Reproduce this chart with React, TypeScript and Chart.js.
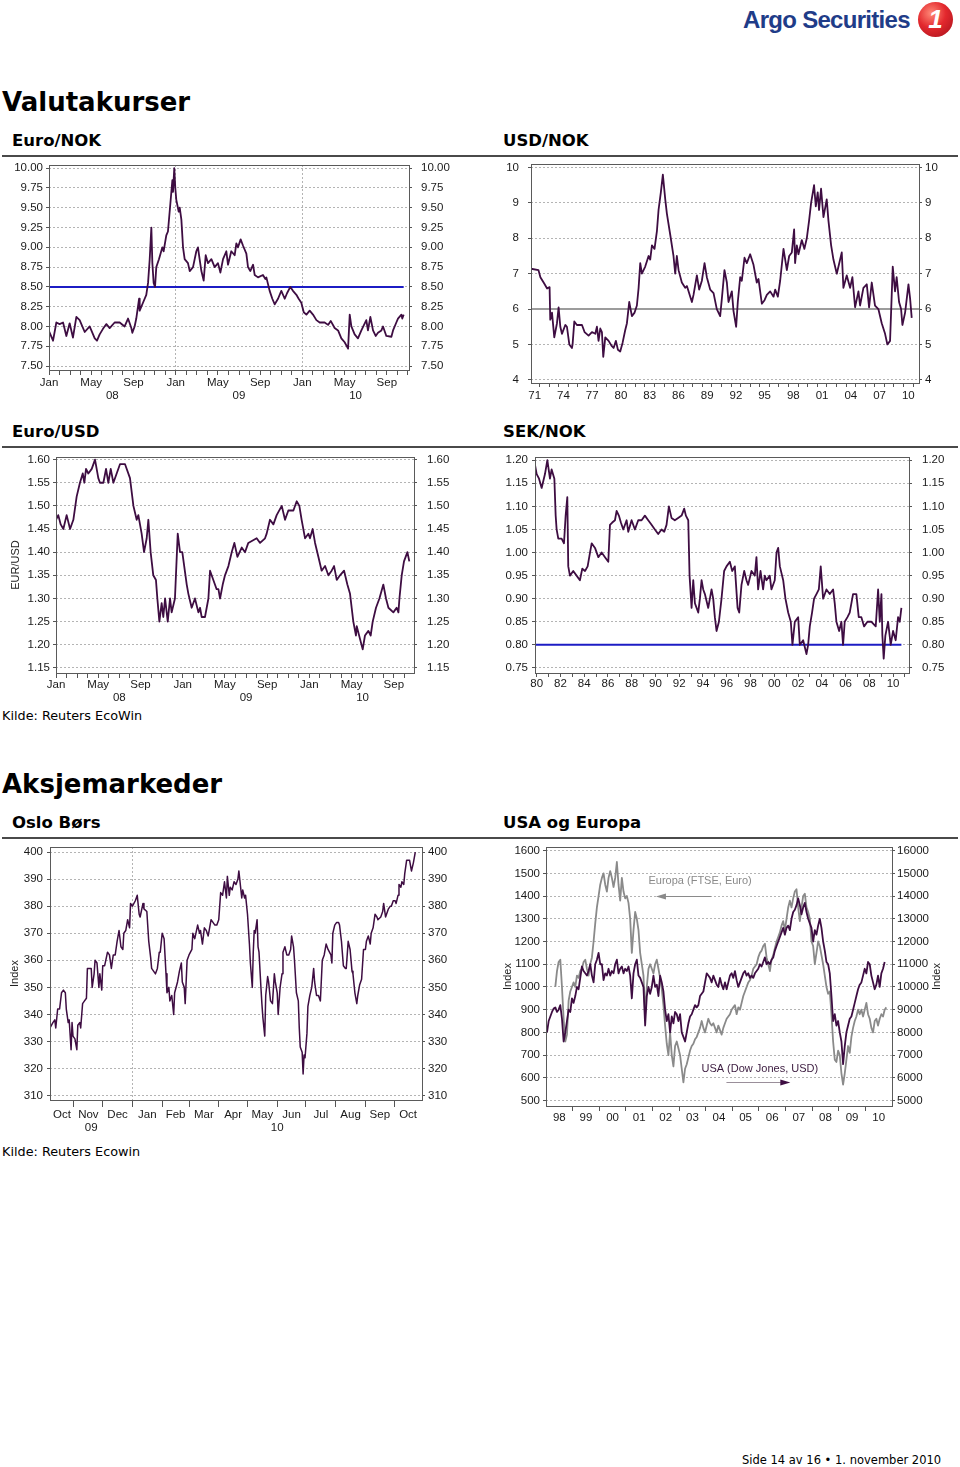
import React, { useEffect, useRef } from 'react';
import { Chart, registerables } from 'chart.js';

Chart.register(...registerables);

const PAGE_FONT = "'DejaVu Sans', Verdana, sans-serif";
const AXIS_FONT = "'Liberation Sans', Arial, Helvetica, sans-serif";
const PURPLE = '#3e0d42';
const BLUE = '#1c1cc4';
const REF_GRAY = '#9c9c9c';
const FTSE_GRAY = '#8a8a8a';
const GRID = '#b4b4b4';
const AXIS = '#555555';
const FRAME = '#5a5a5a';
const TICK_TEXT = '#1a1a1a';
const CLEAR = 'rgba(0,0,0,0)';

// ---------------- DATA ----------------
// Euro/NOK (decimal years)
const eurNokYears = [
  2008.000, 2008.032, 2008.058, 2008.084, 2008.111, 2008.137, 2008.163, 2008.189, 2008.216, 2008.242,
  2008.282, 2008.321, 2008.361, 2008.379, 2008.400, 2008.426, 2008.453, 2008.479, 2008.518, 2008.558,
  2008.597, 2008.624, 2008.650, 2008.658, 2008.676, 2008.689, 2008.711, 2008.716, 2008.742, 2008.768,
  2008.782, 2008.795, 2008.808, 2008.816, 2008.826, 2008.837, 2008.847, 2008.868, 2008.895, 2008.905,
  2008.926, 2008.939, 2008.958, 2008.974, 2008.979, 2008.989, 2008.997, 2009.005, 2009.024, 2009.032,
  2009.045, 2009.058, 2009.071, 2009.097, 2009.111, 2009.137, 2009.163, 2009.176, 2009.189, 2009.203,
  2009.221, 2009.237, 2009.255, 2009.282, 2009.308, 2009.334, 2009.353, 2009.374, 2009.400, 2009.413,
  2009.439, 2009.466, 2009.479, 2009.492, 2009.513, 2009.532, 2009.558, 2009.571, 2009.589, 2009.611,
  2009.624, 2009.650, 2009.689, 2009.708, 2009.716, 2009.742, 2009.763, 2009.782, 2009.808, 2009.834,
  2009.861, 2009.879, 2009.905, 2009.926, 2009.953, 2009.971, 2009.992, 2010.011, 2010.032, 2010.058,
  2010.084, 2010.111, 2010.137, 2010.176, 2010.203, 2010.224, 2010.255, 2010.282, 2010.308, 2010.334,
  2010.361, 2010.374, 2010.387, 2010.413, 2010.439, 2010.466, 2010.505, 2010.518, 2010.537, 2010.558,
  2010.579, 2010.597, 2010.624, 2010.637, 2010.663, 2010.703, 2010.716, 2010.742, 2010.755, 2010.782,
  2010.789, 2010.800,
];
const eurNokValues = [
  7.94, 7.82, 8.05, 8.03, 8.05, 7.88, 8.04, 7.86, 8.12, 8.08,
  7.93, 8.00, 7.85, 7.82, 7.90, 7.97, 8.03, 7.98, 8.05, 8.05,
  8.00, 8.10, 7.98, 7.92, 8.00, 8.10, 8.35, 8.20, 8.30, 8.40,
  8.55, 8.85, 9.25, 8.80, 8.55, 8.50, 8.75, 8.85, 9.00, 8.95,
  9.15, 9.20, 9.55, 9.85, 9.70, 10.00, 9.75, 9.60, 9.45, 9.50,
  9.35, 9.00, 8.85, 8.80, 8.70, 8.75, 8.95, 9.00, 8.85, 8.70,
  8.58, 8.90, 8.80, 8.85, 8.75, 8.80, 8.68, 8.85, 8.95, 8.78,
  8.95, 8.90, 9.05, 9.00, 9.10, 9.02, 8.92, 8.75, 8.70, 8.78,
  8.65, 8.62, 8.65, 8.60, 8.62, 8.45, 8.35, 8.28, 8.35, 8.45,
  8.35, 8.42, 8.50, 8.45, 8.40, 8.35, 8.30, 8.18, 8.15, 8.20,
  8.15, 8.08, 8.05, 8.05, 8.02, 8.07, 7.98, 7.95, 7.85, 7.80,
  7.72, 8.15, 8.00, 7.90, 7.85, 7.95, 8.08, 7.95, 8.12, 7.95,
  7.88, 7.92, 7.95, 8.00, 7.88, 7.87, 7.95, 8.05, 8.10, 8.15,
  8.10, 8.15,
];
const eurNokLevel = 8.5;
const eurNokYTicks = [7.5, 7.75, 8, 8.25, 8.5, 8.75, 9, 9.25, 9.5, 9.75, 10];

// USD/NOK (decimal years)
const usdNokYears = [
  1971.12, 1971.9, 1972.1, 1972.5, 1972.8, 1973.06, 1973.13, 1973.31, 1973.55, 1973.83,
  1974.0, 1974.18, 1974.35, 1974.7, 1974.87, 1975.12, 1975.39, 1975.46, 1975.64, 1975.91,
  1976.44, 1976.71, 1977.13, 1977.48, 1977.83, 1978.0, 1978.17, 1978.35, 1978.52, 1978.66,
  1978.87, 1979.22, 1979.56, 1979.74, 1979.98, 1980.19, 1980.43, 1980.68, 1980.95, 1981.13,
  1981.37, 1981.65, 1981.93, 1982.17, 1982.35, 1982.52, 1982.69, 1983.04, 1983.39, 1983.56,
  1983.74, 1984.01, 1984.26, 1984.43, 1984.67, 1984.88, 1985.13, 1985.30, 1985.65, 1985.99,
  1986.17, 1986.34, 1986.52, 1986.86, 1987.21, 1987.39, 1987.91, 1988.08, 1988.43, 1988.67,
  1988.95, 1989.23, 1989.47, 1989.82, 1990.17, 1990.51, 1990.86, 1991.04, 1991.31, 1991.56,
  1991.73, 1992.08, 1992.25, 1992.53, 1992.70, 1992.95, 1993.12, 1993.40, 1993.64, 1993.99,
  1994.34, 1994.68, 1994.86, 1995.21, 1995.49, 1995.73, 1996.08, 1996.43, 1996.60, 1996.88,
  1997.12, 1997.47, 1997.82, 1998.06, 1998.34, 1998.58, 1998.68, 1998.86, 1999.03, 1999.38,
  1999.65, 1999.90, 2000.14, 2000.35, 2000.66, 2000.84, 2001.04, 2001.18, 2001.39, 2001.64,
  2001.98, 2002.16, 2002.44, 2002.68, 2003.03, 2003.55, 2003.72, 2004.07, 2004.42, 2004.66,
  2004.94, 2005.29, 2005.46, 2005.81, 2006.16, 2006.40, 2006.68, 2007.02, 2007.37, 2007.72,
  2008.07, 2008.31, 2008.59, 2008.87, 2009.11, 2009.28, 2009.53, 2009.74, 2009.88, 2010.16,
  2010.51, 2010.68, 2010.85,
];
const usdNokValues = [
  7.14, 7.10, 6.90, 6.72, 6.58, 6.62, 5.70, 5.90, 5.20, 5.60,
  6.05, 5.50, 5.30, 5.55, 5.50, 5.00, 4.90, 5.00, 5.65, 5.55,
  5.55, 5.35, 5.25, 5.35, 5.30, 5.50, 5.10, 5.45, 5.35, 4.65,
  5.20, 5.10, 4.95, 4.90, 5.10, 4.85, 4.80, 5.05, 5.40, 5.60,
  6.20, 5.80, 5.90, 6.10, 6.60, 7.30, 7.00, 7.20, 7.50, 7.40,
  7.80, 7.70, 8.20, 8.80, 9.30, 9.80, 9.10, 8.70, 8.10, 7.50,
  7.00, 7.50, 7.10, 6.75, 6.60, 6.65, 6.20, 6.40, 6.95, 6.55,
  6.80, 7.30, 6.90, 6.55, 6.45, 6.00, 5.80, 6.30, 7.10, 6.75,
  6.20, 6.50, 5.95, 5.50, 6.20, 6.90, 6.80, 7.45, 7.30, 7.55,
  7.25, 6.75, 6.85, 6.15, 6.25, 6.40, 6.50, 6.35, 6.55, 6.35,
  6.80, 7.70, 7.10, 7.50, 7.60, 8.25, 7.30, 7.80, 7.55, 7.95,
  7.70, 8.00, 8.50, 9.00, 9.50, 8.90, 9.30, 8.80, 9.40, 8.60,
  9.10, 8.50, 7.80, 7.40, 7.00, 7.60, 6.60, 6.95, 6.60, 6.90,
  6.05, 6.50, 6.10, 6.60, 6.70, 6.05, 6.75, 6.10, 6.00, 5.60,
  5.30, 5.00, 5.10, 7.20, 6.50, 6.90, 6.20, 6.00, 5.55, 5.90,
  6.70, 6.30, 5.75,
];
const usdNokLevel = 6;
const usdNokYTicks = [4, 5, 6, 7, 8, 9, 10];
const usdNokLabelYears = [1971, 1974, 1977, 1980, 1983, 1986, 1989, 1992, 1995, 1998, 2001, 2004, 2007, 2010];

// Euro/USD (decimal years)
const eurUsdYears = [
  2008.000, 2008.018, 2008.037, 2008.058, 2008.084, 2008.111, 2008.137, 2008.163, 2008.189, 2008.211,
  2008.224, 2008.237, 2008.255, 2008.282, 2008.308, 2008.334, 2008.347, 2008.374, 2008.395, 2008.413,
  2008.432, 2008.453, 2008.479, 2008.505, 2008.545, 2008.584, 2008.611, 2008.637, 2008.650, 2008.676,
  2008.695, 2008.716, 2008.729, 2008.747, 2008.768, 2008.789, 2008.800, 2008.816, 2008.834, 2008.847,
  2008.861, 2008.882, 2008.900, 2008.913, 2008.939, 2008.961, 2008.979, 2008.997, 2009.032, 2009.045,
  2009.071, 2009.097, 2009.124, 2009.137, 2009.150, 2009.176, 2009.203, 2009.216, 2009.242, 2009.268,
  2009.282, 2009.295, 2009.316, 2009.334, 2009.361, 2009.387, 2009.408, 2009.432, 2009.466, 2009.492,
  2009.518, 2009.584, 2009.611, 2009.650, 2009.663, 2009.689, 2009.716, 2009.742, 2009.782, 2009.808,
  2009.834, 2009.874, 2009.900, 2009.921, 2009.939, 2009.966, 2009.992, 2010.005, 2010.026, 2010.045,
  2010.071, 2010.097, 2010.124, 2010.150, 2010.176, 2010.195, 2010.216, 2010.242, 2010.274, 2010.300,
  2010.321, 2010.347, 2010.368, 2010.374, 2010.421, 2010.439, 2010.466, 2010.484, 2010.500, 2010.526,
  2010.553, 2010.584, 2010.605, 2010.624, 2010.663, 2010.689, 2010.703, 2010.711, 2010.729, 2010.747,
  2010.774, 2010.789,
];
const eurUsdValues = [
  1.47, 1.48, 1.46, 1.45, 1.48, 1.45, 1.47, 1.52, 1.55, 1.57,
  1.55, 1.58, 1.57, 1.58, 1.60, 1.56, 1.55, 1.55, 1.58, 1.55,
  1.58, 1.55, 1.57, 1.59, 1.59, 1.56, 1.50, 1.47, 1.48, 1.44,
  1.40, 1.43, 1.47, 1.40, 1.35, 1.34, 1.30, 1.25, 1.29, 1.26,
  1.30, 1.25, 1.30, 1.27, 1.30, 1.44, 1.40, 1.40, 1.33, 1.31,
  1.28, 1.30, 1.27, 1.28, 1.26, 1.26, 1.30, 1.36, 1.34, 1.32,
  1.32, 1.30, 1.33, 1.35, 1.37, 1.40, 1.42, 1.39, 1.41, 1.40,
  1.42, 1.43, 1.42, 1.43, 1.44, 1.47, 1.46, 1.48, 1.50, 1.47,
  1.49, 1.49, 1.51, 1.50, 1.47, 1.43, 1.44, 1.43, 1.45, 1.42,
  1.39, 1.36, 1.37, 1.35, 1.36, 1.37, 1.34, 1.35, 1.36, 1.33,
  1.31, 1.25, 1.22, 1.24, 1.19, 1.22, 1.23, 1.22, 1.25, 1.28,
  1.30, 1.33, 1.30, 1.28, 1.27, 1.28, 1.27, 1.30, 1.35, 1.38,
  1.40, 1.38,
];
const eurUsdYTicks = [1.15, 1.2, 1.25, 1.3, 1.35, 1.4, 1.45, 1.5, 1.55, 1.6];

// SEK/NOK (decimal years)
const sekNokYears = [
  1979.86, 1980.00, 1980.20, 1980.42, 1980.70, 1980.90, 1981.12, 1981.26, 1981.49, 1981.60,
  1981.68, 1981.82, 1982.10, 1982.30, 1982.44, 1982.58, 1982.66, 1982.80, 1983.08, 1983.36,
  1983.64, 1983.84, 1984.07, 1984.29, 1984.49, 1984.63, 1984.91, 1985.19, 1985.47, 1985.75,
  1986.03, 1986.17, 1986.36, 1986.59, 1986.73, 1986.92, 1987.09, 1987.29, 1987.57, 1987.71,
  1987.99, 1988.27, 1988.55, 1988.83, 1989.11, 1989.39, 1989.67, 1989.95, 1990.23, 1990.51,
  1990.74, 1990.93, 1991.13, 1991.35, 1991.63, 1991.91, 1992.20, 1992.42, 1992.56, 1992.76,
  1992.87, 1993.04, 1993.18, 1993.32, 1993.46, 1993.60, 1993.74, 1993.88, 1994.02, 1994.16,
  1994.44, 1994.72, 1994.86, 1995.00, 1995.14, 1995.34, 1995.56, 1995.78, 1995.98, 1996.26,
  1996.46, 1996.68, 1996.91, 1997.05, 1997.24, 1997.47, 1997.66, 1997.80, 1998.08, 1998.36,
  1998.50, 1998.64, 1998.84, 1999.06, 1999.20, 1999.34, 1999.62, 1999.76, 2000.04, 2000.19,
  2000.33, 2000.47, 2000.75, 2000.94, 2001.17, 2001.39, 2001.53, 2001.73, 2002.01, 2002.15,
  2002.43, 2002.71, 2002.85, 2002.99, 2003.18, 2003.35, 2003.55, 2003.75, 2003.91, 2004.11,
  2004.39, 2004.67, 2004.95, 2005.09, 2005.23, 2005.46, 2005.65, 2005.79, 2005.93, 2006.16,
  2006.35, 2006.63, 2006.91, 2007.11, 2007.33, 2007.56, 2007.84, 2008.18, 2008.54, 2008.74,
  2008.88, 2009.02, 2009.10, 2009.21, 2009.35, 2009.58, 2009.80, 2010.00, 2010.22, 2010.42,
  2010.56, 2010.70,
];
const sekNokValues = [
  1.19, 1.17, 1.16, 1.14, 1.17, 1.20, 1.16, 1.18, 1.16, 1.08,
  1.05, 1.03, 1.03, 1.02, 1.08, 1.12, 0.97, 0.95, 0.96, 0.95,
  0.94, 0.965, 0.96, 0.97, 1.00, 1.02, 1.01, 0.99, 1.00, 0.99,
  0.98, 1.06, 1.065, 1.07, 1.09, 1.08, 1.065, 1.05, 1.07, 1.045,
  1.07, 1.05, 1.07, 1.07, 1.08, 1.07, 1.06, 1.05, 1.04, 1.05,
  1.045, 1.06, 1.10, 1.075, 1.07, 1.075, 1.08, 1.095, 1.08, 1.07,
  0.95, 0.88, 0.94, 0.89, 0.88, 0.87, 0.90, 0.94, 0.92, 0.91,
  0.88, 0.92, 0.90, 0.86, 0.83, 0.85, 0.90, 0.96, 0.97, 0.98,
  0.96, 0.97, 0.88, 0.87, 0.93, 0.96, 0.94, 0.93, 0.96, 0.95,
  0.99, 0.92, 0.96, 0.92, 0.95, 0.94, 0.95, 0.92, 0.94, 1.00,
  1.01, 0.97, 0.94, 0.90, 0.87, 0.85, 0.80, 0.85, 0.86, 0.80,
  0.81, 0.78, 0.80, 0.84, 0.87, 0.90, 0.91, 0.92, 0.97, 0.90,
  0.92, 0.91, 0.92, 0.89, 0.85, 0.83, 0.85, 0.80, 0.85, 0.86,
  0.87, 0.91, 0.91, 0.86, 0.86, 0.84, 0.85, 0.85, 0.84, 0.92,
  0.85, 0.91, 0.82, 0.77, 0.82, 0.85, 0.80, 0.83, 0.81, 0.86,
  0.85, 0.88,
];
const sekNokLevel = 0.8;
const sekNokYTicks = [0.75, 0.8, 0.85, 0.9, 0.95, 1.0, 1.05, 1.1, 1.15, 1.2];
const sekNokLabelYears = [1980, 1982, 1984, 1986, 1988, 1990, 1992, 1994, 1996, 1998, 2000, 2002, 2004, 2006, 2008, 2010];

// Oslo Børs, days counted from 1 Oct 2009
const osloDays = [
  6, 9, 11, 12, 14, 16, 18, 20, 22, 23,
  25, 26, 28, 29, 30, 32, 34, 35, 37, 38,
  40, 42, 44, 45, 47, 49, 50, 52, 53, 55,
  57, 58, 60, 61, 63, 66, 68, 70, 72, 74,
  76, 78, 80, 82, 83, 85, 87, 89, 90, 92,
  95, 97, 99, 100, 103, 104, 107, 109, 111, 112,
  114, 116, 118, 120, 121, 123, 125, 127, 128, 130,
  131, 133, 135, 136, 139, 141, 143, 144, 146, 147,
  149, 151, 154, 155, 157, 160, 162, 163, 165, 167,
  169, 171, 174, 176, 178, 180, 182, 184, 186, 188,
  190, 191, 193, 194, 196, 198, 200, 202, 203, 206,
  207, 209, 210, 212, 214, 215, 217, 218, 219, 220,
  222, 223, 224, 226, 227, 228, 230, 231, 233, 234,
  236, 238, 240, 241, 243, 244, 246, 248, 249, 251,
  253, 255, 257, 258, 260, 261, 263, 265, 266, 267,
  269, 270, 271, 272, 274, 275, 277, 279, 281, 282,
  284, 286, 288, 290, 292, 294, 296, 299, 300, 301,
  303, 305, 307, 308, 310, 312, 314, 315, 317, 319,
  321, 322, 324, 326, 327, 329, 331, 333, 335, 336,
  338, 340, 341, 343, 345, 347, 348, 351, 353, 354,
  356, 357, 359, 361, 362, 364, 366, 367, 369, 370,
  372, 373, 375, 376, 378, 380, 381, 383, 385, 387,
];
const osloValues = [
  335, 337, 338, 335, 342, 342, 348, 349, 348, 342,
  337, 338, 327, 337, 332, 331, 327, 336, 337, 335,
  344, 345, 346, 357, 357, 357, 350, 355, 360, 359,
  350, 355, 349, 358, 358, 363, 362, 357, 362, 362,
  367, 371, 365, 364, 370, 371, 375, 372, 381, 380,
  382, 384, 377, 376, 381, 379, 378, 367, 361, 357,
  356, 355, 357, 363, 363, 370, 368, 355, 348, 350,
  345, 347, 340, 348, 352, 356, 359, 352, 350, 344,
  360, 362, 364, 370, 368, 373, 370, 371, 366, 372,
  371, 369, 375, 374, 373, 373, 375, 385, 384, 389,
  383, 391, 384, 387, 386, 389, 388, 390, 393, 383,
  386, 383, 384, 377, 366, 359, 350, 363, 371, 370,
  375, 365, 363, 350, 344, 339, 332, 347, 354, 352,
  345, 344, 355, 352, 348, 340, 350, 355, 363, 365,
  362, 362, 364, 369, 365, 360, 348, 345, 335, 328,
  326, 318, 325, 324, 333, 343, 347, 350, 357, 352,
  347, 347, 345, 360, 362, 366, 364, 362, 359, 370,
  373, 374, 374, 373, 367, 358, 357, 357, 367, 364,
  356, 355, 348, 344, 347, 351, 353, 364, 364, 367,
  369, 366, 370, 372, 377, 376, 375, 376, 378, 381,
  376, 377, 379, 380, 380, 382, 382, 381, 384, 388,
  387, 389, 388, 392, 397, 397, 397, 393, 396, 400,
];
const osloYTicks = [310, 320, 330, 340, 350, 360, 370, 380, 390, 400];
const osloMonthStarts = [31, 61, 92, 123, 151, 182, 212, 243, 273, 304, 335, 365];
const osloMonthNames = ['Oct', 'Nov', 'Dec', 'Jan', 'Feb', 'Mar', 'Apr', 'May', 'Jun', 'Jul', 'Aug', 'Sep', 'Oct'];
const osloYearLabels = [{ v: 49, label: '09' }, { v: 243, label: '10' }];

// USA og Europa, observations every 3/4 month
const stockStep = 0.0625;
const dowStart = 1998.0375;
const dowValues = [
  8000, 8500, 8700, 8900, 9050, 9100, 8900, 9000, 9200, 8600,
  7600, 8000, 8500, 9000, 8900, 9500, 9300, 9600, 10000, 9900,
  10400, 10900, 10700, 10600, 10500, 10700, 11000, 10500, 10200, 11000,
  11200, 11500, 11000, 11000, 10300, 10600, 10500, 10800, 10500, 10700,
  10600, 11000, 11200, 10600, 10800, 10900, 10600, 10800, 10700, 10900,
  10500, 9500, 10600, 11000, 11200, 10500, 10400, 10200, 10000, 8300,
  9600, 10000, 9700, 10000, 10500, 10000, 10100, 9600, 10500, 10200,
  9800, 9000, 8500, 8800, 8000, 8700, 8400, 8900, 8800, 8500,
  8800, 8000, 7800, 7600, 8000, 8400, 8700, 8800, 9000, 9200,
  9100, 9200, 9600, 9700, 9800, 10200, 10600, 10500, 10400, 10200,
  10500, 10300, 10100, 10000, 10400, 10100, 9900, 10200, 9900, 10200,
  10500, 10600, 10400, 10700, 10300, 10000, 10200, 10400, 10600, 10700,
  10500, 10600, 10400, 10500, 10400, 10600, 10700, 10800, 11000, 10900,
  11100, 11300, 11000, 11100, 11000, 11200, 11300, 11600, 11800, 12000,
  12200, 12400, 12600, 12300, 12600, 12700, 12500, 13000, 13300, 13400,
  13600, 13900, 13600, 13200, 13500, 13700, 13300, 13000, 12800, 12600,
  12000, 12500, 12300, 12700, 13000, 12600, 12000, 11600, 11100, 11000,
  10600, 9600, 8500, 8800, 8300, 8500, 8000, 7600, 6600, 7400,
  8000, 8300, 8600, 8700, 9000, 9300, 9600, 9900, 10100, 10200,
  10500, 10800, 10600, 11100, 11000, 10500, 10200, 9900, 10100, 10500,
  10000, 10600, 10800, 11100,
];
const ftseStart = 1998.35;
const ftseValues = [
  1000, 1070, 1110, 1120, 1000, 860, 760, 790, 940, 980,
  1000, 1020, 1000, 1050, 1040, 1070, 1080, 1110, 1120, 1080,
  1050, 1100, 1130, 1200, 1280, 1350, 1400, 1450, 1480, 1500,
  1450, 1420, 1480, 1510, 1480, 1440, 1480, 1550, 1450, 1380,
  1480, 1420, 1390, 1400, 1370, 1300, 1150, 1250, 1330, 1300,
  1250, 1150, 1100, 1050, 880, 1000, 1080, 1100, 1080, 1060,
  1100, 1120, 1080, 1040, 990, 920, 830, 750, 700, 800,
  700, 650, 740, 760, 730, 700, 640, 580, 640, 660,
  690, 720, 740, 750, 770, 780, 800, 820, 850, 820,
  800, 830, 860, 840, 830, 840, 820, 800, 830, 810,
  790, 820, 840, 860, 870, 880, 900, 910, 920, 880,
  910, 900, 930, 960, 980, 1000, 1020, 1030, 1050, 1080,
  1090, 1100, 1130, 1150, 1160, 1180, 1190, 1130, 1100, 1070,
  1120, 1140, 1170, 1200, 1220, 1240, 1270, 1290, 1250, 1300,
  1350, 1380, 1350, 1390, 1420, 1430, 1350, 1290, 1350, 1400,
  1410, 1350, 1330, 1300, 1200, 1180, 1100, 1150, 1200, 1180,
  1140, 1100, 1050, 1000, 970, 980, 880, 760, 680, 670,
  720, 700, 620, 570, 620, 680, 740, 710, 780, 820,
  850, 870, 900, 880, 900, 870, 900, 930, 880, 860,
  820, 800, 850, 860, 830, 860, 880, 870, 900, 910,
];
const ftseYTicks = [500, 600, 700, 800, 900, 1000, 1100, 1200, 1300, 1400, 1500, 1600];
const dowYTicks = [5000, 6000, 7000, 8000, 9000, 10000, 11000, 12000, 13000, 14000, 15000, 16000];
const stockLabelYears = [1998, 1999, 2000, 2001, 2002, 2003, 2004, 2005, 2006, 2007, 2008, 2009, 2010];

const monthShort = ['Jan', '', '', '', 'May', '', '', '', 'Sep', '', '', ''];
const fxYearLabels = [{ v: 2008.5, label: '08' }, { v: 2009.5, label: '09' }, { v: 2010.42, label: '10' }];

// ---------------- HELPERS ----------------
type TickSpec = { v: number; label: string; mark: boolean; grid: boolean };
type Pt = { x: number; y: number };

const yy = (y: number) => String(y % 100).padStart(2, '0');

function monthTicks(fromYear: number, toValue: number, yearLines: boolean): TickSpec[] {
  const out: TickSpec[] = [];
  for (let y = fromYear; y <= toValue; y++) {
    for (let m = 0; m < 12; m++) {
      const v = y + m / 12;
      if (v > toValue + 1e-9) break;
      out.push({ v, label: monthShort[m], mark: true, grid: yearLines && m === 0 && y > fromYear });
    }
  }
  return out;
}

function labelTicks(list: { v: number; label: string }[]): TickSpec[] {
  return list.map((t) => ({ v: t.v, label: t.label, mark: false, grid: false }));
}

function line(data: Pt[], color: string, width: number, yAxisID = 'y') {
  return {
    data,
    borderColor: color,
    borderWidth: width,
    pointRadius: 0,
    pointHoverRadius: 0,
    fill: false,
    tension: 0,
    borderJoinStyle: 'round',
    yAxisID,
  };
}

type Note =
  | { kind: 'text'; text: string; x: number; y: number; color: string }
  | { kind: 'arrow'; x1: number; x2: number; y: number; color: string; head: string };

interface Spec {
  width: number;
  height: number;
  padTop: number;
  leftW: number;
  rightW: number;
  xMin: number;
  xMax: number;
  xTicks: TickSpec[];
  xTickLen: number;
  xPad: number;
  xH: number;
  yearTicks?: TickSpec[];
  yearH?: number;
  yMin: number;
  yMax: number;
  yTicks: number[];
  yFmt: (v: number) => string;
  y2?: { min: number; max: number; ticks: number[]; fmt: (v: number) => string };
  leftPad: number;
  rightPad: number;
  yTitle?: string;
  yTitlePad?: number;
  fontSize?: number;
  datasets: any[];
  notes?: Note[];
  sideTitle?: { text: string; x: number };
}

const framePlugin = {
  id: 'frame',
  afterDraw(chart: any) {
    const { ctx, chartArea: a } = chart;
    ctx.save();
    ctx.strokeStyle = FRAME;
    ctx.lineWidth = 1;
    ctx.strokeRect(Math.round(a.left) + 0.5, Math.round(a.top) + 0.5, Math.round(a.right - a.left), Math.round(a.bottom - a.top));
    ctx.restore();
  },
};

const notesPlugin = {
  id: 'notes',
  afterDatasetsDraw(chart: any, _args: any, opts: any) {
    const { ctx } = chart;
    const items = (opts && opts.items) || [];
    const xs = chart.scales.x;
    const ys = chart.scales.y;
    ctx.save();
    for (const n of items) {
      if (n.kind === 'text') {
        ctx.font = `11px ${AXIS_FONT}`;
        ctx.fillStyle = n.color;
        ctx.textAlign = 'left';
        ctx.textBaseline = 'middle';
        ctx.fillText(n.text, xs.getPixelForValue(n.x), ys.getPixelForValue(n.y));
      } else if (n.kind === 'arrow') {
        const x1 = xs.getPixelForValue(n.x1);
        const x2 = xs.getPixelForValue(n.x2);
        const y = Math.round(ys.getPixelForValue(n.y)) + 0.5;
        const dir = x2 > x1 ? 1 : -1;
        ctx.strokeStyle = n.color;
        ctx.lineWidth = 1;
        ctx.beginPath();
        ctx.moveTo(x1, y);
        ctx.lineTo(x2 - dir * 8, y);
        ctx.stroke();
        ctx.fillStyle = n.head;
        ctx.beginPath();
        ctx.moveTo(x2, y);
        ctx.lineTo(x2 - dir * 10, y - 3);
        ctx.lineTo(x2 - dir * 10, y + 3);
        ctx.closePath();
        ctx.fill();
      }
    }
    const side = opts && opts.side;
    if (side && side.text) {
      const a = chart.chartArea;
      ctx.translate(side.x, (a.top + a.bottom) / 2);
      ctx.rotate(-Math.PI / 2);
      ctx.font = `11px ${AXIS_FONT}`;
      ctx.fillStyle = '#222';
      ctx.textAlign = 'center';
      ctx.textBaseline = 'middle';
      ctx.fillText(side.text, 0, 0);
    }
    ctx.restore();
  },
};

function buildConfig(s: Spec): any {
  const font = { family: AXIS_FONT, size: s.fontSize ?? 11.5 };
  const fix = (w?: number, h?: number) => (sc: any) => {
    if (w !== undefined) sc.width = w;
    if (h !== undefined) sc.height = h;
    sc.paddingTop = 0;
    sc.paddingBottom = 0;
    sc.paddingLeft = 0;
    sc.paddingRight = 0;
  };
  const xt = [...s.xTicks].sort((a, b) => a.v - b.v);
  const r = s.y2 ?? { min: s.yMin, max: s.yMax, ticks: s.yTicks, fmt: s.yFmt };
  const scales: any = {
    x: {
      type: 'linear',
      position: 'bottom',
      weight: 1,
      min: s.xMin,
      max: s.xMax,
      afterBuildTicks: (sc: any) => {
        sc.ticks = xt.map((t) => ({ value: t.v }));
      },
      afterFit: fix(undefined, s.xH),
      ticks: {
        autoSkip: false,
        maxRotation: 0,
        minRotation: 0,
        padding: s.xPad,
        font,
        color: TICK_TEXT,
        callback: (_v: any, i: number) => (xt[i] ? xt[i].label : ''),
      },
      grid: {
        drawOnChartArea: true,
        lineWidth: 1,
        tickLength: s.xTickLen,
        tickWidth: 1,
        color: (c: any) => (xt[c.index] && xt[c.index].grid ? GRID : CLEAR),
        tickColor: (c: any) => (xt[c.index] && xt[c.index].mark ? AXIS : CLEAR),
      },
      border: { display: false, dash: [2, 2] },
    },
    y: {
      type: 'linear',
      position: 'left',
      min: s.yMin,
      max: s.yMax,
      afterBuildTicks: (sc: any) => {
        sc.ticks = s.yTicks.map((v) => ({ value: v }));
      },
      afterFit: fix(s.leftW),
      ticks: { autoSkip: false, padding: s.leftPad, font, color: TICK_TEXT, callback: (v: any) => s.yFmt(Number(v)) },
      grid: { drawOnChartArea: true, color: GRID, lineWidth: 1, tickLength: 3, tickColor: AXIS, tickWidth: 1 },
      border: { display: false, dash: [2, 2] },
      title: s.yTitle
        ? { display: true, text: s.yTitle, font: { family: AXIS_FONT, size: 11 }, color: '#222', padding: { top: s.yTitlePad ?? 0, bottom: 0 } }
        : { display: false },
    },
    yR: {
      type: 'linear',
      position: 'right',
      min: r.min,
      max: r.max,
      afterBuildTicks: (sc: any) => {
        sc.ticks = r.ticks.map((v) => ({ value: v }));
      },
      afterFit: fix(s.rightW),
      ticks: { autoSkip: false, padding: s.rightPad, font, color: TICK_TEXT, callback: (v: any) => r.fmt(Number(v)) },
      grid: { drawOnChartArea: false, color: GRID, tickLength: 3, tickColor: AXIS, tickWidth: 1 },
      border: { display: false },
    },
  };
  if (s.yearTicks) {
    const yt = s.yearTicks;
    scales.xYear = {
      type: 'linear',
      position: 'bottom',
      weight: 2,
      min: s.xMin,
      max: s.xMax,
      afterBuildTicks: (sc: any) => {
        sc.ticks = yt.map((t) => ({ value: t.v }));
      },
      afterFit: fix(undefined, s.yearH ?? 14),
      ticks: {
        autoSkip: false,
        maxRotation: 0,
        minRotation: 0,
        padding: 0,
        font,
        color: TICK_TEXT,
        callback: (_v: any, i: number) => (yt[i] ? yt[i].label : ''),
      },
      grid: { display: false, drawTicks: false, drawOnChartArea: false },
      border: { display: false },
    };
  }
  return {
    type: 'line',
    data: { datasets: s.datasets },
    options: {
      responsive: false,
      maintainAspectRatio: false,
      animation: false,
      devicePixelRatio: 1,
      events: [],
      layout: { padding: { top: s.padTop, left: 0, right: 0, bottom: 0 } },
      plugins: {
        legend: { display: false },
        tooltip: { enabled: false },
        notes: { items: s.notes ?? [], side: s.sideTitle ?? null },
      },
      scales,
    },
    plugins: [framePlugin, notesPlugin],
  };
}

// ---------------- SPECS ----------------
const eurNokSeries: Pt[] = eurNokYears.map((x, i) => ({ x, y: eurNokValues[i] }));
const eurNokSpec: Spec = {
  width: 470, height: 244, padTop: 5, leftW: 49, rightW: 61,
  xMin: 2008, xMax: 2010.842,
  xTicks: monthTicks(2008, 2010.842, true), xTickLen: 5, xPad: 1, xH: 19,
  yearTicks: labelTicks(fxYearLabels), yearH: 15,
  yMin: 7.45, yMax: 10.04, yTicks: eurNokYTicks, yFmt: (v) => v.toFixed(2),
  leftPad: 3, rightPad: 9,
  datasets: [
    line(eurNokSeries, PURPLE, 1.8),
    line([{ x: eurNokYears[0], y: eurNokLevel }, { x: eurNokYears[eurNokYears.length - 1], y: eurNokLevel }], BLUE, 2),
  ],
};

const usdNokXTicks: TickSpec[] = [];
for (let y = 1972; y <= 2011; y++) usdNokXTicks.push({ v: y, label: '', mark: true, grid: false });
usdNokLabelYears.forEach((y) => usdNokXTicks.push({ v: y + 0.5, label: yy(y), mark: false, grid: false }));
const usdNokSeries: Pt[] = usdNokYears.map((x, i) => ({ x, y: usdNokValues[i] }));
const usdNokSpec: Spec = {
  width: 470, height: 244, padTop: 4, leftW: 41, rightW: 41,
  xMin: 1971.12, xMax: 2011.61,
  xTicks: usdNokXTicks, xTickLen: 4, xPad: 2, xH: 21,
  yMin: 3.91, yMax: 10.1, yTicks: usdNokYTicks, yFmt: (v) => String(v),
  leftPad: 9, rightPad: 3,
  datasets: [
    line(usdNokSeries, PURPLE, 1.8),
    line([{ x: 1971.12, y: usdNokLevel }, { x: 2011.61, y: usdNokLevel }], REF_GRAY, 2),
  ],
};

const eurUsdSeries: Pt[] = eurUsdYears.map((x, i) => ({ x, y: eurUsdValues[i] }));
const eurUsdSpec: Spec = {
  width: 470, height: 253, padTop: 5, leftW: 56, rightW: 56,
  xMin: 2008, xMax: 2010.826,
  xTicks: monthTicks(2008, 2010.826, false), xTickLen: 5, xPad: 0, xH: 18,
  yearTicks: labelTicks(fxYearLabels), yearH: 14,
  yMin: 1.139, yMax: 1.6056, yTicks: eurUsdYTicks, yFmt: (v) => v.toFixed(2),
  leftPad: 3, rightPad: 10, yTitle: 'EUR/USD', yTitlePad: 9.4,
  datasets: [line(eurUsdSeries, PURPLE, 1.8)],
};

const sekNokXTicks: TickSpec[] = [];
for (let y = 1980; y <= 2011; y++)
  sekNokXTicks.push({ v: y, label: sekNokLabelYears.includes(y) ? yy(y) : '', mark: true, grid: false });
const sekNokSeries: Pt[] = sekNokYears.map((x, i) => ({ x, y: sekNokValues[i] }));
const sekNokSpec: Spec = {
  width: 470, height: 253, padTop: 5, leftW: 45, rightW: 51,
  xMin: 1979.86, xMax: 2011.34,
  xTicks: sekNokXTicks, xTickLen: 4, xPad: 0, xH: 32,
  yMin: 0.739, yMax: 1.207, yTicks: sekNokYTicks, yFmt: (v) => v.toFixed(2),
  leftPad: 4, rightPad: 10,
  datasets: [
    line(sekNokSeries, PURPLE, 1.8),
    line([{ x: sekNokYears[0], y: sekNokLevel }, { x: sekNokYears[sekNokYears.length - 1], y: sekNokLevel }], BLUE, 2),
  ],
};

const osloMin = 6;
const osloMax = 394;
const osloXTicks: TickSpec[] = osloMonthStarts.map((d) => ({ v: d, label: '', mark: true, grid: d === 92 }));
{
  const bounds = [osloMin, ...osloMonthStarts, osloMax];
  osloMonthNames.forEach((name, i) =>
    osloXTicks.push({ v: (bounds[i] + bounds[i + 1]) / 2, label: name, mark: false, grid: false })
  );
}
const osloSeries: Pt[] = osloDays.map((x, i) => ({ x, y: osloValues[i] }));
const osloSpec: Spec = {
  width: 470, height: 296, padTop: 5, leftW: 50, rightW: 48,
  xMin: osloMin, xMax: osloMax,
  xTicks: osloXTicks, xTickLen: 7, xPad: 1, xH: 21,
  yearTicks: labelTicks(osloYearLabels), yearH: 17,
  yMin: 308.4, yMax: 401.85, yTicks: osloYTicks, yFmt: (v) => String(v),
  leftPad: 4, rightPad: 3, yTitle: 'Index', yTitlePad: 8.4,
  datasets: [line(osloSeries, PURPLE, 1.5)],
};

const stockXTicks: TickSpec[] = [];
for (let y = 1999; y <= 2010; y++) stockXTicks.push({ v: y, label: '', mark: true, grid: false });
stockLabelYears.forEach((y) => stockXTicks.push({ v: y + 0.5, label: yy(y), mark: false, grid: false }));
const dowSeries: Pt[] = dowValues.map((y, i) => ({ x: dowStart + i * stockStep, y }));
const ftseSeries: Pt[] = ftseValues.map((y, i) => ({ x: ftseStart + i * stockStep, y }));
const usEuNotes: Note[] = [
  { kind: 'text', text: 'Europa (FTSE, Euro)', x: 2001.85, y: 1468, color: '#8a8a8a' },
  { kind: 'arrow', x1: 2004.2, x2: 2002.13, y: 1400, color: '#8a8a8a', head: '#8a8a8a' },
  { kind: 'text', text: 'USA (Dow Jones, USD)', x: 2003.84, y: 640, color: '#3a1a3e' },
  { kind: 'arrow', x1: 2004.78, x2: 2007.18, y: 583, color: '#9a8f9a', head: PURPLE },
];
const usEuSpec: Spec = {
  width: 470, height: 298, padTop: 5, leftW: 56, rightW: 68,
  xMin: 1998, xMax: 2011,
  xTicks: stockXTicks, xTickLen: 5, xPad: 0, xH: 34,
  yMin: 476, yMax: 1616, yTicks: ftseYTicks, yFmt: (v) => String(v),
  y2: { min: 4760, max: 16160, ticks: dowYTicks, fmt: (v) => String(v) },
  leftPad: 3, rightPad: 2, yTitle: 'Index', yTitlePad: 11.4,
  datasets: [line(dowSeries, PURPLE, 1.8, 'yR'), line(ftseSeries, FTSE_GRAY, 1.8, 'y')],
  notes: usEuNotes,
  sideTitle: { text: 'Index', x: 446.7 },
};

// ---------------- COMPONENTS ----------------
function ChartBox({ spec, left, top }: { spec: Spec; left: number; top: number }) {
  const ref = useRef<HTMLCanvasElement | null>(null);
  useEffect(() => {
    if (!ref.current) return;
    const chart = new Chart(ref.current, buildConfig(spec));
    return () => chart.destroy();
  }, [spec]);
  return (
    <canvas
      ref={ref}
      width={spec.width}
      height={spec.height}
      style={{ position: 'absolute', left, top, width: spec.width, height: spec.height }}
    />
  );
}

function Txt(props: {
  x: number;
  base: number;
  size: number;
  bold?: boolean;
  color?: string;
  family?: string;
  spacing?: number;
  children: React.ReactNode;
}) {
  const { x, base, size } = props;
  return (
    <div
      style={{
        position: 'absolute',
        left: x,
        top: base - 0.846 * size,
        fontSize: size,
        lineHeight: `${size}px`,
        fontWeight: props.bold ? 700 : 400,
        fontFamily: props.family ?? PAGE_FONT,
        color: props.color ?? '#000',
        whiteSpace: 'nowrap',
        letterSpacing: props.spacing,
      }}
    >
      {props.children}
    </div>
  );
}

function Rule({ y }: { y: number }) {
  return <div style={{ position: 'absolute', left: 2, top: y, width: 956, height: 2, background: '#4a4a4a' }} />;
}

export default function App() {
  return (
    <div
      style={{
        position: 'absolute',
        left: 0,
        top: 0,
        width: 960,
        height: 1467,
        background: '#ffffff',
        overflow: 'hidden',
        fontFamily: PAGE_FONT,
      }}
    >
      {/* Logo */}
      <Txt x={743} base={28} size={24} bold color="#1f3c88" family={AXIS_FONT} spacing={-0.7}>
        Argo Securities
      </Txt>
      <div
        style={{
          position: 'absolute',
          left: 918,
          top: 2,
          width: 35,
          height: 35,
          borderRadius: '50%',
          background: 'radial-gradient(circle at 38% 32%, #ff8a78 0%, #e3282d 45%, #a3101b 100%)',
        }}
      >
        <div
          style={{
            position: 'absolute',
            left: 0,
            top: 0,
            width: 35,
            height: 35,
            lineHeight: '35px',
            textAlign: 'center',
            color: '#ffffff',
            fontFamily: AXIS_FONT,
            fontWeight: 700,
            fontStyle: 'italic',
            fontSize: 26,
          }}
        >
          1
        </div>
      </div>

      <Txt x={2} base={110.7} size={26} bold>Valutakurser</Txt>

      <Txt x={12} base={146.7} size={16.5} bold>Euro/NOK</Txt>
      <Txt x={503} base={146.7} size={16.5} bold>USD/NOK</Txt>
      <Rule y={155} />
      <ChartBox spec={eurNokSpec} left={0} top={160} />
      <ChartBox spec={usdNokSpec} left={490} top={160} />

      <Txt x={12} base={438} size={16.5} bold>Euro/USD</Txt>
      <Txt x={503} base={438} size={16.5} bold>SEK/NOK</Txt>
      <Rule y={446} />
      <ChartBox spec={eurUsdSpec} left={0} top={452} />
      <ChartBox spec={sekNokSpec} left={490} top={452} />

      <Txt x={2} base={721} size={12.8}>Kilde: Reuters EcoWin</Txt>

      <Txt x={2} base={793.3} size={26} bold>Aksjemarkeder</Txt>

      <Txt x={12} base={829.3} size={16.5} bold>Oslo Børs</Txt>
      <Txt x={503} base={829.3} size={16.5} bold>USA og Europa</Txt>
      <Rule y={837} />
      <ChartBox spec={osloSpec} left={0} top={842} />
      <ChartBox spec={usEuSpec} left={490} top={842} />

      <Txt x={2} base={1156.7} size={12.8}>Kilde: Reuters Ecowin</Txt>

      <Txt x={742} base={1465} size={11.5}>Side 14 av 16 • 1. november 2010</Txt>
    </div>
  );
}
